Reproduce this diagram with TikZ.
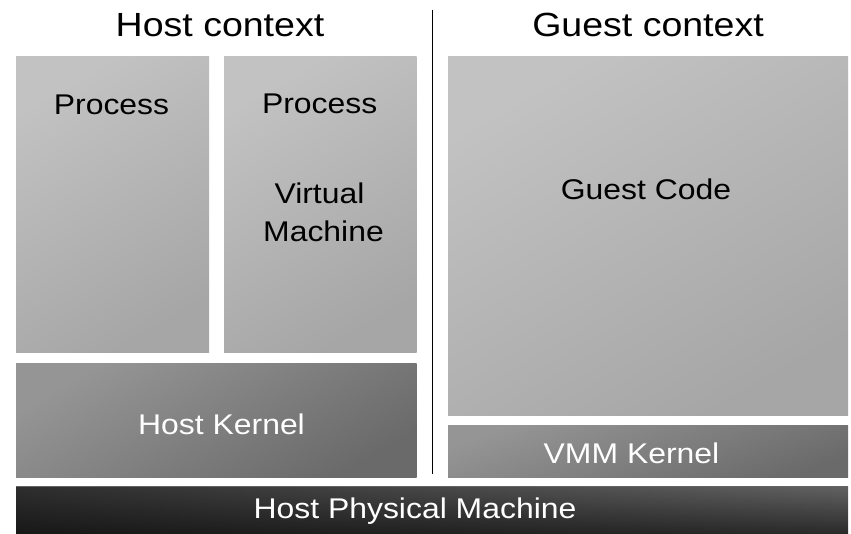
\documentclass[tikz,border=0pt]{standalone}
\usepackage{fontspec}
\setmainfont{Liberation Sans}[FakeStretch=1.12]
\usetikzlibrary{fadings}
\begin{document}
\begin{tikzpicture}[x=1pt,y=-1pt,
  title/.style={font=\fontsize{33.5}{40}\selectfont, text=black, inner sep=0pt, anchor=base},
  darklabel/.style={font=\fontsize{28.5}{34}\selectfont, text=black, inner sep=0pt, anchor=base},
  lightlabel/.style={font=\fontsize{28.5}{34}\selectfont, text=white, inner sep=0pt, anchor=base},
  procshade/.style={top color=procA, bottom color=procB, shading angle=30},
  kernshade/.style={top color=kernA, bottom color=kernB, shading angle=30}
]
\definecolor{procA}{HTML}{C2C2C2}
\definecolor{procB}{HTML}{A6A6A6}
\definecolor{kernA}{HTML}{959595}
\definecolor{kernB}{HTML}{6A6A6A}
\definecolor{physA}{HTML}{626262}
\definecolor{physB}{HTML}{2A2A2A}
\definecolor{physC}{HTML}{0C0C0C}

\useasboundingbox[fill=white] (0,0) rectangle (851,534);

% shaded blocks
\shade[procshade] (16,57) rectangle (209,353);
\shade[procshade] (224,57) rectangle (416.5,353);
\shade[procshade] (448,57) rectangle (848,415.5);
\shade[kernshade] (16,364) rectangle (416.5,477);
\shade[kernshade, shading angle=20] (448,425.5) rectangle (848,477);
\shade[top color=physA, bottom color=physB] (16,486.5) rectangle (848,534);
\fill[physC, path fading=east, opacity=0.6] (16,486.5) rectangle (848,534);

% divider between host and guest
\coordinate (divtop) at (432.5,10);
\coordinate (divbot) at (432.5,474);
\draw[line width=1.3pt, black] (divtop) -- (divbot);

% titles
\node[title] (hostctx) at (220,37) {Host context};
\node[title] (guestctx) at (648,37) {Guest context};

% labels
\node[darklabel] (p1) at (111.5,115) {Process};
\node[darklabel] (p2) at (319.7,114) {Process};
\node[darklabel] (vm1) at (319.5,204) {Virtual};
\node[darklabel] (vm2) at (323.5,242) {Machine};
\node[darklabel] (gc) at (646,200) {Guest Code};
\node[lightlabel] (hk) at (221.5,434) {Host Kernel};
\node[lightlabel] (vk) at (631.5,463.5) {VMM Kernel};
\node[lightlabel] (hp) at (415,518) {Host Physical Machine};
\end{tikzpicture}
\end{document}
